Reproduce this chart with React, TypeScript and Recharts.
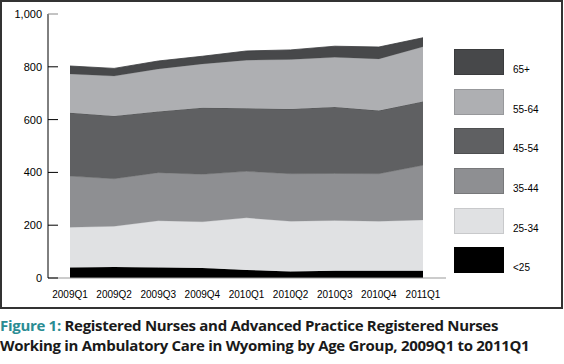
import React from "react"
import { Area, AreaChart, XAxis, YAxis } from "recharts"

const quarters = ["2009Q1", "2009Q2", "2009Q3", "2009Q4", "2010Q1", "2010Q2", "2010Q3", "2010Q4", "2011Q1"]
const under25 = [40, 42, 40, 38, 30, 25, 27, 27, 27]
const age25to34 = [152, 154, 177, 175, 198, 190, 191, 188, 193]
const age35to44 = [194, 180, 182, 180, 176, 180, 178, 180, 207]
const age45to54 = [240, 238, 232, 252, 239, 245, 252, 239, 242]
const age55to64 = [147, 151, 161, 166, 182, 188, 188, 196, 207]
const age65plus = [30, 29, 30, 29, 35, 36, 42, 45, 34]
const yTicks = [0, 200, 400, 600, 800, 1000]

const series = [
  { key: "<25", values: under25, color: "#000000", stroke: "#000000" },
  { key: "25-34", values: age25to34, color: "#e0e1e3", stroke: "#c8c9cb" },
  { key: "35-44", values: age35to44, color: "#8e8f92", stroke: "#77787a" },
  { key: "45-54", values: age45to54, color: "#5f6062", stroke: "#4e4f51" },
  { key: "55-64", values: age55to64, color: "#aeafb2", stroke: "#97989b" },
  { key: "65+", values: age65plus, color: "#47484a", stroke: "#3a3b3d" },
]

const data = quarters.map((q, i) => {
  const row: any = { name: q }
  series.forEach((s) => {
    row[s.key] = s.values[i]
  })
  return row
})

const fontFamily = "'Open Sans', sans-serif"
const tickFont = "'Liberation Sans', Arial, sans-serif"

const YTick = (props: any) => {
  const { x, y, payload } = props
  const label = payload.value === 1000 ? "1,000" : String(payload.value)
  return (
    <g>
      <line x1={x + 6} y1={y} x2={x + 16} y2={y} stroke={payload.value === 1000 ? "#888" : "#000"} strokeWidth={1} />
      <text x={x} y={y + 4} textAnchor="end" fontSize={11} fill="#000" fontFamily={tickFont}>
        {label}
      </text>
    </g>
  )
}

const XTick = (props: any) => {
  const { x, y, payload } = props
  return (
    <text x={x} y={y + 10} textAnchor="middle" fontSize={10} fill="#000" fontFamily={tickFont}>
      {payload.value}
    </text>
  )
}

const LegendBox = () => {
  const items = [...series].reverse()
  return (
    <div style={{ position: "absolute", left: 454, top: 49 }}>
      {items.map((s) => (
        <div key={s.key} style={{ position: "relative", height: 39.7 }}>
          <div
            style={{
              position: "absolute",
              left: 0,
              top: 0,
              width: 50,
              height: 26,
              background: s.color,
              boxSizing: "border-box",
              border: `1px solid ${s.stroke}`,
            }}
          />
          <span
            style={{
              position: "absolute",
              left: 59,
              top: 15,
              fontSize: 10,
              fontFamily: tickFont,
              color: "#000",
              whiteSpace: "nowrap",
            }}
          >
            {s.key}
          </span>
        </div>
      ))}
    </div>
  )
}

export default function App() {
  return (
    <div style={{ position: "absolute", left: 0, top: 0, width: 564, height: 364, background: "#fff" }}>
      <div
        style={{
          position: "absolute",
          left: 0,
          top: 0,
          width: 563,
          height: 309,
          boxSizing: "border-box",
          border: "2px solid #333",
        }}
      />
      <div style={{ position: "absolute", left: 0, top: 0 }}>
        <AreaChart width={564} height={305} data={data} margin={{ top: 14, right: 118, bottom: 0, left: 0 }}>
          <XAxis
            dataKey="name"
            padding={{ left: 22, right: 23 }}
            tickLine={false}
            axisLine={{ stroke: "#999" }}
            tick={<XTick />}
            tickMargin={4}
            interval={0}
            height={27}
          />
          <YAxis
            domain={[0, 1000]}
            ticks={yTicks}
            width={48}
            tickSize={0}
            tickMargin={6}
            axisLine={{ stroke: "#000" }}
            tickLine={false}
            tick={<YTick />}
          />
          {series.map((s) => (
            <Area
              key={s.key}
              type="linear"
              dataKey={s.key}
              stackId="1"
              stroke={s.stroke}
              strokeWidth={0.8}
              fill={s.color}
              fillOpacity={1}
              isAnimationActive={false}
            />
          ))}
        </AreaChart>
      </div>
      <LegendBox />
      <div
        style={{
          position: "absolute",
          left: 0,
          top: 315,
          fontFamily,
          fontWeight: 700,
          fontSize: 15,
          lineHeight: "20px",
          color: "#1a1a1a",
          letterSpacing: -0.3,
        }}
      >
        <span style={{ color: "#2a8c93" }}>Figure 1:</span> Registered Nurses and Advanced Practice Registered Nurses
        <br />
        Working in Ambulatory Care in Wyoming by Age Group, 2009Q1 to 2011Q1
      </div>
    </div>
  )
}
